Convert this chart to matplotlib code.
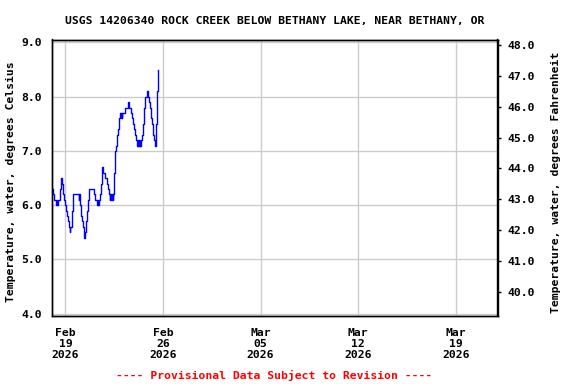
import matplotlib
matplotlib.use("Agg")
import matplotlib.pyplot as plt
import pandas as pd

# ---- data (hours after 2026-02-18 00:00, deg C, step series) ----
start_time = "2026-02-18 00:00"
hours = [0.5, 2.9, 4.6, 7.5, 9.0, 9.5, 10.5, 11.0, 12.0, 13.8, 14.9, 15.5, 16.0, 17.8, 19.5,
         20.6, 21.8, 23.5, 24.6, 26.4, 28.1, 29.8, 31.0, 31.6, 32.0, 32.6, 33.8, 35.0, 36.1,
         37.3, 37.8, 47.6, 48.2, 48.6, 49.3, 50.4, 51.6, 52.7, 54.4, 56.2, 56.7, 57.2, 57.6,
         58.4, 59.6, 61.3, 62.5, 63.6, 64.8, 73.3, 75.6, 78.5, 80.0, 80.4, 81.9, 83.7, 84.5,
         85.5, 86.3, 87.5, 89.5, 92.5, 95.5, 97.0, 98.5, 100.0, 101.5, 102.0, 103.5, 104.0,
         105.0, 105.5, 106.5, 107.3, 108.3, 109.0, 110.0, 111.0, 112.3, 113.5, 114.5, 117.0,
         118.5, 119.5, 120.5, 121.5, 122.2, 126.5, 131.5, 134.3, 136.5, 138.5, 140.5, 142.2,
         143.8, 145.5, 147.5, 149.0, 149.5, 150.5, 151.0, 152.0, 152.5, 153.5, 154.0, 154.8,
         156.0, 157.0, 158.5, 159.5, 160.5, 161.8, 164.0, 166.3, 167.8, 169.5, 170.8, 171.8,
         172.8, 174.2, 175.2, 176.5, 177.7, 178.2, 178.6, 179.2, 180.2, 181.4, 182.0, 182.8]
temps_c = [6.3, 6.2, 6.1, 6.0, 6.1, 6.0, 6.1, 6.0, 6.1, 6.2, 6.3, 6.4, 6.5, 6.4, 6.3,
           6.2, 6.1, 6.0, 5.9, 5.8, 5.7, 5.6, 5.5, 5.6, 5.5, 5.6, 5.6, 5.7, 5.9,
           6.0, 6.2, 6.1, 6.2, 6.1, 6.0, 5.9, 5.8, 5.7, 5.6, 5.5, 5.4, 5.5, 5.4,
           5.5, 5.7, 5.9, 6.0, 6.1, 6.3, 6.2, 6.1, 6.0, 6.1, 6.0, 6.1, 6.2, 6.3,
           6.4, 6.6, 6.7, 6.6, 6.5, 6.4, 6.3, 6.2, 6.1, 6.2, 6.1, 6.2, 6.1,
           6.2, 6.1, 6.2, 6.4, 6.6, 6.8, 7.0, 7.1, 7.2, 7.3, 7.4, 7.6,
           7.7, 7.6, 7.7, 7.6, 7.7, 7.8, 7.9, 7.8, 7.7, 7.6, 7.5, 7.4,
           7.3, 7.2, 7.1, 7.2, 7.1, 7.2, 7.1, 7.2, 7.1, 7.2, 7.1, 7.2,
           7.3, 7.5, 7.7, 7.8, 7.9, 8.0, 8.1, 8.0, 7.9, 7.8, 7.7, 7.6,
           7.5, 7.4, 7.3, 7.2, 7.1, 7.2, 7.1, 7.2, 7.5, 8.0, 8.1, 8.5]

x_start = "2026-02-18"
x_end = "2026-03-22"
tick_dates = ["2026-02-19", "2026-02-26", "2026-03-05", "2026-03-12", "2026-03-19"]
tick_labels = ["Feb\n19\n2026", "Feb\n26\n2026", "Mar\n05\n2026", "Mar\n12\n2026", "Mar\n19\n2026"]
c_ticks = [4.0, 5.0, 6.0, 7.0, 8.0, 9.0]
f_ticks = [40.0, 41.0, 42.0, 43.0, 44.0, 45.0, 46.0, 47.0, 48.0]

title = "USGS 14206340 ROCK CREEK BELOW BETHANY LAKE, NEAR BETHANY, OR"
left_label = "Temperature, water, degrees Celsius"
right_label = "Temperature, water, degrees Fahrenheit"
footer = "---- Provisional Data Subject to Revision ----"

# ---- figure ----
FONT = "DejaVu Sans Mono"
FS = 8.2
plt.rcParams["font.family"] = FONT
plt.rcParams["font.weight"] = "bold"

W, H = 576, 384
L, R, T, B = 51.5, 497.5, 39.5, 315.5
fig = plt.figure(figsize=(W / 100, H / 100), dpi=100)
ax = fig.add_axes([L / W, 1 - B / H, (R - L) / W, (B - T) / H])

times = pd.Timestamp(start_time) + pd.to_timedelta(hours, unit="h")
ax.step(times, temps_c, where="post", color="#0000FF", lw=1.0, zorder=3)

ax.set_xlim(pd.Timestamp(x_start), pd.Timestamp(x_end))
ax.set_ylim(3.967, 9.055)
ax.set_xticks(pd.to_datetime(tick_dates))
ax.set_xticklabels(tick_labels, fontsize=FS, fontweight="bold", linespacing=1.1)
ax.set_yticks(c_ticks)
ax.set_yticklabels([f"{v:.1f}" for v in c_ticks], fontsize=FS, fontweight="bold")
ax.tick_params(axis="both", length=0, pad=7)
ax.tick_params(axis="x", pad=9)
ax.grid(True, color="#CCCCCC", lw=1.0)
for s in ax.spines.values():
    s.set_color("black")
    s.set_linewidth(1.0)

label_y = 1 - (182 - T) / (B - T)
ax.set_ylabel(left_label, fontsize=FS, fontweight="bold")
ax.yaxis.label.set_verticalalignment("center")
ax.yaxis.set_label_coords(-(L - 11) / (R - L), label_y)

ax2 = ax.twinx()
ax2.set_ylim(39.228, 48.178)
ax2.set_yticks(f_ticks)
ax2.set_yticklabels([f"{v:.1f}" for v in f_ticks], fontsize=FS, fontweight="bold")
ax2.tick_params(axis="y", length=3, width=1, pad=4, direction="out")
ax2.set_ylabel(right_label, fontsize=FS, fontweight="bold")
ax2.yaxis.label.set_verticalalignment("center")
ax2.yaxis.set_label_coords(1 + (556 - R) / (R - L), label_y)
for s in ax2.spines.values():
    s.set_color("black")
    s.set_linewidth(1.0)

fig.text(275 / W, 1 - 21 / H, title, ha="center", va="center", fontsize=FS, fontweight="bold")
fig.text(274 / W, 1 - 375 / H, footer, ha="center", va="center", fontsize=FS,
         fontweight="bold", color="#FF0000")

fig.savefig("out.png", dpi=100)
